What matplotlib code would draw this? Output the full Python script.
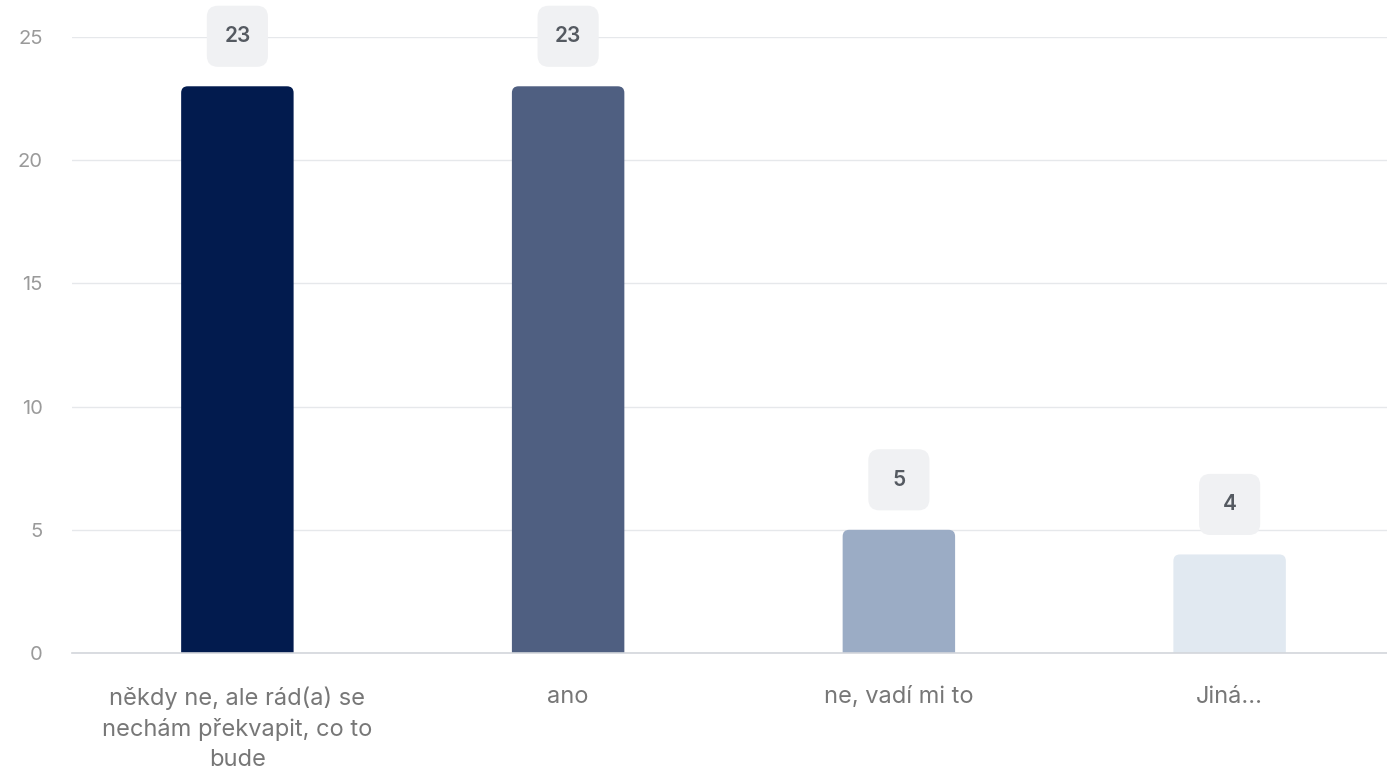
import matplotlib
matplotlib.use("Agg")
import matplotlib.pyplot as plt
from matplotlib.patches import FancyBboxPatch
from matplotlib.offsetbox import AnnotationBbox, DrawingArea
from matplotlib.text import Text

plt.rcParams["font.family"] = ["Inter", "DejaVu Sans"]

categories = [
    "někdy ne, ale rád(a) se\nnechám překvapit, co to\nbude",
    "ano",
    "ne, vadí mi to",
    "Jiná...",
]
counts = [23, 23, 5, 4]
bar_colors = ["#021b4e", "#4f5f81", "#9bacc5", "#e1e9f1"]

W, H = 1387, 776
fig = plt.figure(figsize=(W / 100, H / 100), dpi=100)
# plot area runs a little past the right edge of the image
ax = fig.add_axes([72 / W, 123 / H, (1395 - 72) / W, (653 - 37) / H])

bars = ax.bar(range(len(counts)), counts, width=0.34, color=bar_colors, zorder=3)

# swap plain rectangles for rounded ones (bottom corners hidden below 0)
for rect in bars:
    x0, w, h = rect.get_x(), rect.get_width(), rect.get_height()
    rect.set_visible(False)
    rounded = FancyBboxPatch(
        (x0, -0.5), w, h + 0.5,
        boxstyle="round,pad=0,rounding_size=0.02",
        mutation_aspect=13.3,
        fc=rect.get_facecolor(), ec="none", zorder=3,
    )
    ax.add_patch(rounded)

# value badges above bars
bw, bh = 44, 44
for i, v in enumerate(counts):
    da = DrawingArea(bw, bh, 0, 0)
    da.add_artist(FancyBboxPatch(
        (0, 0), bw, bh, boxstyle="round,pad=0,rounding_size=8",
        fc="#f0f1f3", ec="none",
    ))
    da.add_artist(Text(bw / 2, bh / 2, str(v), ha="center", va="center",
                       fontsize=15, fontweight="semibold", color="#555a61"))
    ab = AnnotationBbox(da, (i, v), xybox=(0, 36), xycoords="data",
                        boxcoords="offset points", frameon=False, pad=0,
                        box_alignment=(0.5, 0.5), zorder=4)
    ax.add_artist(ab)

ax.set_xlim(-0.5, len(counts) - 0.5)
ax.set_ylim(0, 25)
ax.set_yticks([0, 5, 10, 15, 20, 25])
ax.set_xticks(range(len(counts)))
ax.set_xticklabels(categories, fontsize=17, color="#777777", linespacing=1.47)

ax.grid(axis="y", color="#e6e8eb", linewidth=1, zorder=0)
ax.tick_params(axis="y", length=0, pad=21, labelsize=14.5, labelcolor="#9a9a9a")
ax.tick_params(axis="x", length=0, pad=24)
for s in ["top", "right", "left"]:
    ax.spines[s].set_visible(False)
ax.spines["bottom"].set_color("#d3d6db")
ax.spines["bottom"].set_linewidth(1.2)
ax.spines["bottom"].set_zorder(5)

fig.savefig("out.png", dpi=100, facecolor="white")
